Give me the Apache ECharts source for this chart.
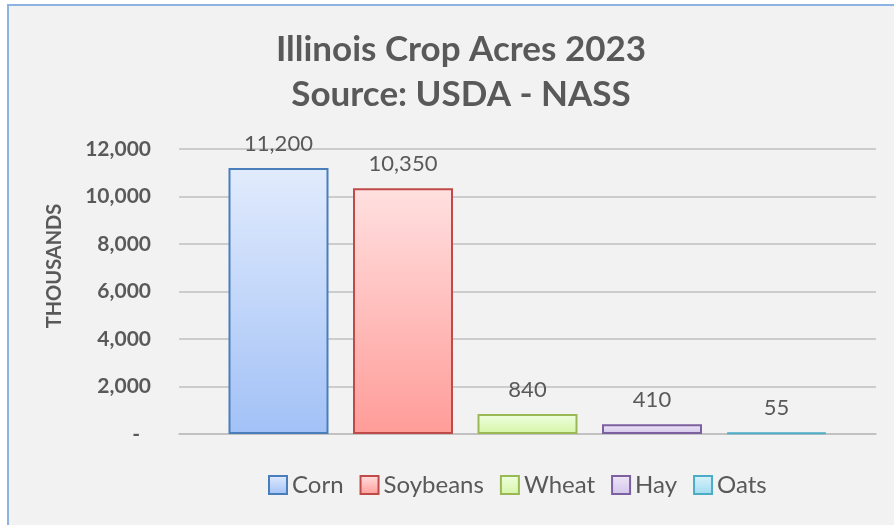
<!DOCTYPE html>
<html>
<head>
<meta charset="utf-8">
<script src="https://cdn.jsdelivr.net/npm/echarts@6/dist/echarts.min.js"></script>
<style>
html,body{margin:0;padding:0;background:#fff;}
#c{width:894px;height:525px;}
</style>
</head>
<body>
<div id="c"></div>
<script>
const titleLines = ['Illinois Crop Acres 2023', 'Source: USDA - NASS'];
const crops = ['Corn', 'Soybeans', 'Wheat', 'Hay', 'Oats'];
const acres = [11200, 10350, 840, 410, 55];
const yTicks = [0, 2000, 4000, 6000, 8000, 10000, 12000];
const yAxisTitle = 'THOUSANDS';

const palette = [
  {top:'#e1ebfd', bottom:'#a2c1f6', border:'#4a7ebb'},
  {top:'#ffe0e0', bottom:'#ff9c98', border:'#be4b48'},
  {top:'#effee0', bottom:'#d5f5a6', border:'#98b954'},
  {top:'#eee6f7', bottom:'#d3c6ea', border:'#7d60a0'},
  {top:'#dcf3fb', bottom:'#9fdcef', border:'#4bacc6'}
];
const TXT = '#595959';
const FONT = 'Lato';

function fmt(v){ return v === 0 ? '-' : v.toLocaleString('en-US'); }

const series = crops.map((name, i) => ({
  name: name,
  type: 'bar',
  data: [acres[i]],
  barWidth: 100,
  barGap: '24.5%',
  itemStyle: {
    color: new echarts.graphic.LinearGradient(0, 0, 0, 1, [
      {offset: 0, color: palette[i].top},
      {offset: 1, color: palette[i].bottom}
    ]),
    borderColor: palette[i].border,
    borderWidth: 2
  },
  label: {
    show: true,
    position: 'top',
    distance: 13,
    color: TXT,
    fontFamily: FONT,
    fontSize: 22,
    formatter: p => fmt(p.value)
  }
}));

const chart = echarts.init(document.getElementById('c'), null, {renderer: 'canvas'});
chart.setOption({
  backgroundColor: '#f2f2f2',
  animation: false,
  title: {
    text: titleLines.join('\n'),
    left: 456,
    textAlign: 'center',
    top: 22,
    textStyle: {color: TXT, fontFamily: FONT, fontWeight: 'bold', fontSize: 35, lineHeight: 45}
  },
  legend: {
    left: 263,
    top: 468,
    itemWidth: 18,
    itemHeight: 18,
    itemGap: 16,
    icon: 'rect',
    textStyle: {color: TXT, fontFamily: FONT, fontSize: 24},
    data: crops.map((n, i) => ({name: n, itemStyle: {borderColor: palette[i].border, borderWidth: 2}}))
  },
  grid: {left: 179, right: 18, top: 149, bottom: 91},
  xAxis: {
    type: 'category',
    data: [''],
    axisLine: {show: true, lineStyle: {color: '#bfbfbf', width: 1.5}},
    axisTick: {show: false},
    axisLabel: {show: false}
  },
  yAxis: {
    type: 'value',
    min: yTicks[0],
    max: yTicks[yTicks.length - 1],
    interval: yTicks[1] - yTicks[0],
    axisLine: {show: false},
    axisTick: {show: false},
    splitLine: {lineStyle: {color: '#bfbfbf', width: 1.5}},
    axisLabel: {
      margin: 28,
      color: TXT,
      fontFamily: FONT,
      fontWeight: 'bold',
      fontSize: 21,
      formatter: v => v === 0 ? '{d|-}' : fmt(v),
      rich: {d: {color: TXT, fontFamily: FONT, fontWeight: 'bold', fontSize: 21, padding: [0, 11, 0, 0]}}
    }
  },
  graphic: [
    {type: 'rect', shape: {x: 0, y: 0, width: 7, height: 525}, style: {fill: '#ffffff'}, silent: true},
    {type: 'rect', shape: {x: 0, y: 0, width: 894, height: 4}, style: {fill: '#ffffff'}, silent: true},
    {type: 'line', shape: {x1: 8, y1: 4, x2: 8, y2: 525}, style: {stroke: '#8db3e2', lineWidth: 2}, silent: true},
    {type: 'line', shape: {x1: 7, y1: 5, x2: 894, y2: 5}, style: {stroke: '#8db3e2', lineWidth: 2}, silent: true},
    {type: 'text', x: 55, y: 266, rotation: Math.PI / 2,
     style: {text: yAxisTitle, fill: TXT, font: 'bold 20px ' + FONT, textAlign: 'center', textVerticalAlign: 'middle'}}
  ],
  series: series
});
</script>
</body>
</html>
